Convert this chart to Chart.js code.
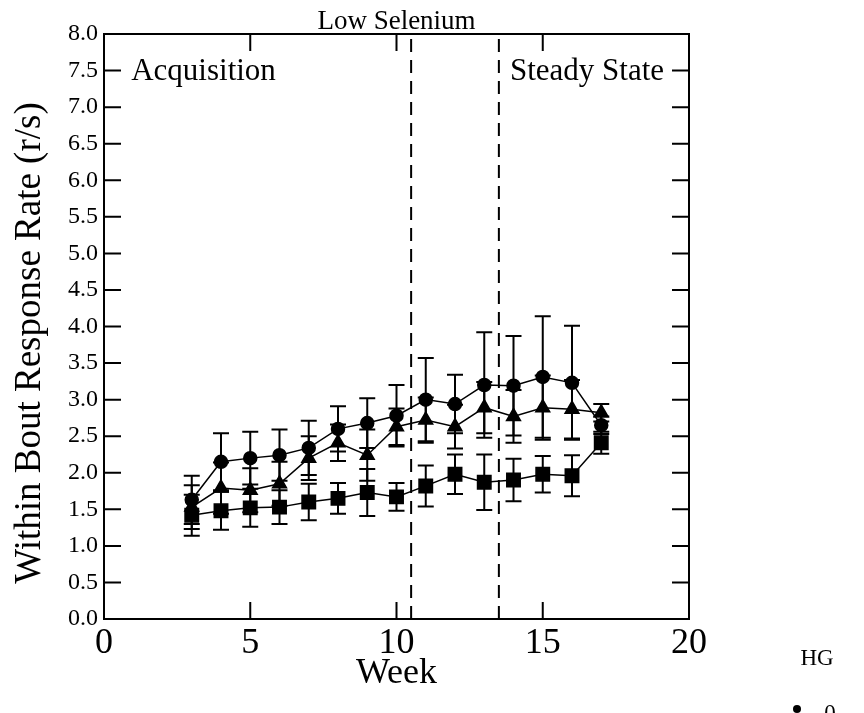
<!DOCTYPE html>
<html>
<head>
<meta charset="utf-8">
<script src="https://cdn.jsdelivr.net/npm/chart.js@4.4.0/dist/chart.umd.min.js"></script>
<style>
  body { margin: 0; background: #fff; }
  #wrap { position: relative; width: 864px; height: 713px; }
</style>
</head>
<body>
<div id="wrap"><canvas id="hgChart" width="864" height="713"></canvas></div>
<script>
// weeks and group means
const weeks = [3, 4, 5, 6, 7, 8, 9, 10, 11, 12, 13, 14, 15, 16, 17];
const circleMeans = [1.63, 2.15, 2.20, 2.24, 2.34, 2.60, 2.68, 2.78, 3.00, 2.94, 3.20, 3.19, 3.31, 3.23, 2.65];
const circleErr = [0.33, 0.39, 0.36, 0.35, 0.37, 0.31, 0.34, 0.42, 0.57, 0.40, 0.72, 0.68, 0.83, 0.78, 0.12];
const triangleMeans = [1.53, 1.79, 1.76, 1.85, 2.20, 2.41, 2.24, 2.63, 2.72, 2.63, 2.89, 2.77, 2.89, 2.87, 2.82];
const triangleErr = [0.30, 0.35, 0.30, 0.30, 0.30, 0.25, 0.35, 0.25, 0.31, 0.30, 0.35, 0.36, 0.44, 0.40, 0.12];
const squareMeans = [1.42, 1.48, 1.52, 1.53, 1.60, 1.65, 1.73, 1.67, 1.82, 1.98, 1.87, 1.90, 1.98, 1.96, 2.41];
const squareErr = [0.28, 0.26, 0.26, 0.23, 0.25, 0.21, 0.32, 0.19, 0.28, 0.27, 0.38, 0.29, 0.25, 0.28, 0.15];

const phaseLines = [10.5, 13.5];
const yTicks = [0, 0.5, 1, 1.5, 2, 2.5, 3, 3.5, 4, 4.5, 5, 5.5, 6, 6.5, 7, 7.5, 8];
const xTicks = [0, 5, 10, 15, 20];

const serif = "'Liberation Serif', 'DejaVu Serif', serif";

function toPoints(means) {
    return weeks.map((w, i) => ({ x: w, y: means[i] }));
}

// error bars, phase lines, box and inward ticks
const decorations = {
    id: 'decorations',
    beforeDatasetsDraw(chart) {
        const { ctx, chartArea: a, scales: { x, y } } = chart;
        ctx.save();
        ctx.strokeStyle = '#000';

        // dashed phase boundaries
        ctx.lineWidth = 2;
        ctx.setLineDash([13, 8]);
        phaseLines.forEach(v => {
            const px = x.getPixelForValue(v);
            ctx.beginPath();
            ctx.moveTo(px, a.bottom);
            ctx.lineTo(px, a.top);
            ctx.stroke();
        });
        ctx.setLineDash([]);

        // error bars
        const groups = [[circleMeans, circleErr], [triangleMeans, triangleErr], [squareMeans, squareErr]];
        ctx.lineWidth = 2;
        groups.forEach(([m, e]) => {
            weeks.forEach((w, i) => {
                const px = x.getPixelForValue(w);
                const hi = y.getPixelForValue(m[i] + e[i]);
                const lo = y.getPixelForValue(m[i] - e[i]);
                ctx.beginPath();
                ctx.moveTo(px, hi); ctx.lineTo(px, lo);
                ctx.moveTo(px - 8, hi); ctx.lineTo(px + 8, hi);
                ctx.moveTo(px - 8, lo); ctx.lineTo(px + 8, lo);
                ctx.stroke();
            });
        });
        ctx.restore();
    },
    afterDraw(chart) {
        const { ctx, chartArea: a, scales: { x, y } } = chart;
        ctx.save();
        ctx.strokeStyle = '#000';
        ctx.lineWidth = 2;
        ctx.strokeRect(a.left, a.top, a.right - a.left, a.bottom - a.top);

        const len = 17;
        ctx.beginPath();
        yTicks.forEach(v => {
            const py = y.getPixelForValue(v);
            ctx.moveTo(a.left, py); ctx.lineTo(a.left + len, py);
            ctx.moveTo(a.right, py); ctx.lineTo(a.right - len, py);
        });
        xTicks.forEach(v => {
            const px = x.getPixelForValue(v);
            ctx.moveTo(px, a.bottom); ctx.lineTo(px, a.bottom - len);
            ctx.moveTo(px, a.top); ctx.lineTo(px, a.top + len);
        });
        ctx.stroke();

        // title over the plot box
        ctx.fillStyle = '#000';
        ctx.font = '27px ' + serif;
        ctx.textAlign = 'center';
        ctx.textBaseline = 'alphabetic';
        ctx.fillText('Low Selenium', (a.left + a.right) / 2, a.top - 5);

        // y axis title (sits a little below the box centre in the original)
        ctx.save();
        ctx.translate(30, 343);
        ctx.rotate(-Math.PI / 2);
        ctx.font = '37px ' + serif;
        ctx.textBaseline = 'middle';
        ctx.fillText('Within Bout Response Rate (r/s)', 0, 0);
        ctx.restore();

        // phase labels
        ctx.font = '31px ' + serif;
        ctx.textBaseline = 'middle';
        ctx.textAlign = 'left';
        const py = y.getPixelForValue(7.5) + 1;
        ctx.fillStyle = '#fff';
        ctx.fillRect(x.getPixelForValue(0.9), py - 16, ctx.measureText('Acquisition').width + 4, 32);
        ctx.fillRect(x.getPixelForValue(13.85), py - 16, ctx.measureText('Steady State').width + 2, 32);
        ctx.fillStyle = '#000';
        ctx.fillText('Acquisition', x.getPixelForValue(0.93), py);
        ctx.fillText('Steady State', x.getPixelForValue(13.88), py);

        // stray legend at the bottom right
        ctx.font = '23px ' + serif;
        ctx.textAlign = 'center';
        ctx.textBaseline = 'alphabetic';
        ctx.fillText('HG', 817, 665);
        ctx.fillText('0', 830, 720);
        ctx.beginPath();
        ctx.arc(797, 709, 4, 0, Math.PI * 2);
        ctx.fill();
        ctx.restore();
    }
};

const common = {
    borderColor: '#000',
    backgroundColor: '#000',
    pointBackgroundColor: '#000',
    pointBorderColor: '#000',
    borderWidth: 1.5,
    showLine: true,
    tension: 0
};

new Chart(document.getElementById('hgChart'), {
    type: 'scatter',
    data: {
        datasets: [
            { ...common, label: 'circle', data: toPoints(circleMeans), pointStyle: 'circle', pointRadius: 6.5 },
            { ...common, label: 'triangle', data: toPoints(triangleMeans), pointStyle: 'triangle', pointRadius: 8 },
            { ...common, label: 'square', data: toPoints(squareMeans), pointStyle: 'rect', pointRadius: 9.5 }
        ]
    },
    options: {
        responsive: false,
        animation: false,
        layout: { padding: { left: 0, right: 175, top: 34, bottom: 0 } },
        plugins: {
            legend: { display: false },
            tooltip: { enabled: false },
            title: { display: false }
        },
        scales: {
            x: {
                type: 'linear',
                min: 0, max: 20,
                afterFit: s => { s.height = 94; },
                afterBuildTicks: s => { s.ticks = xTicks.map(v => ({ value: v })); },
                grid: { display: false, drawTicks: false },
                border: { display: false },
                ticks: { color: '#000', font: { family: serif, size: 36 }, padding: 3 },
                title: { display: true, text: 'Week', color: '#000', font: { family: serif, size: 36 }, padding: { top: 0, bottom: 18 } }
            },
            y: {
                min: 0, max: 8,
                afterFit: s => { s.width = 104; },
                afterBuildTicks: s => { s.ticks = yTicks.map(v => ({ value: v })); },
                grid: { display: false, drawTicks: false },
                border: { display: false },
                ticks: { color: '#000', font: { family: serif, size: 24 }, padding: 6, callback: v => v.toFixed(1) },
                title: { display: false }
            }
        }
    },
    plugins: [decorations]
});
</script>
</body>
</html>
